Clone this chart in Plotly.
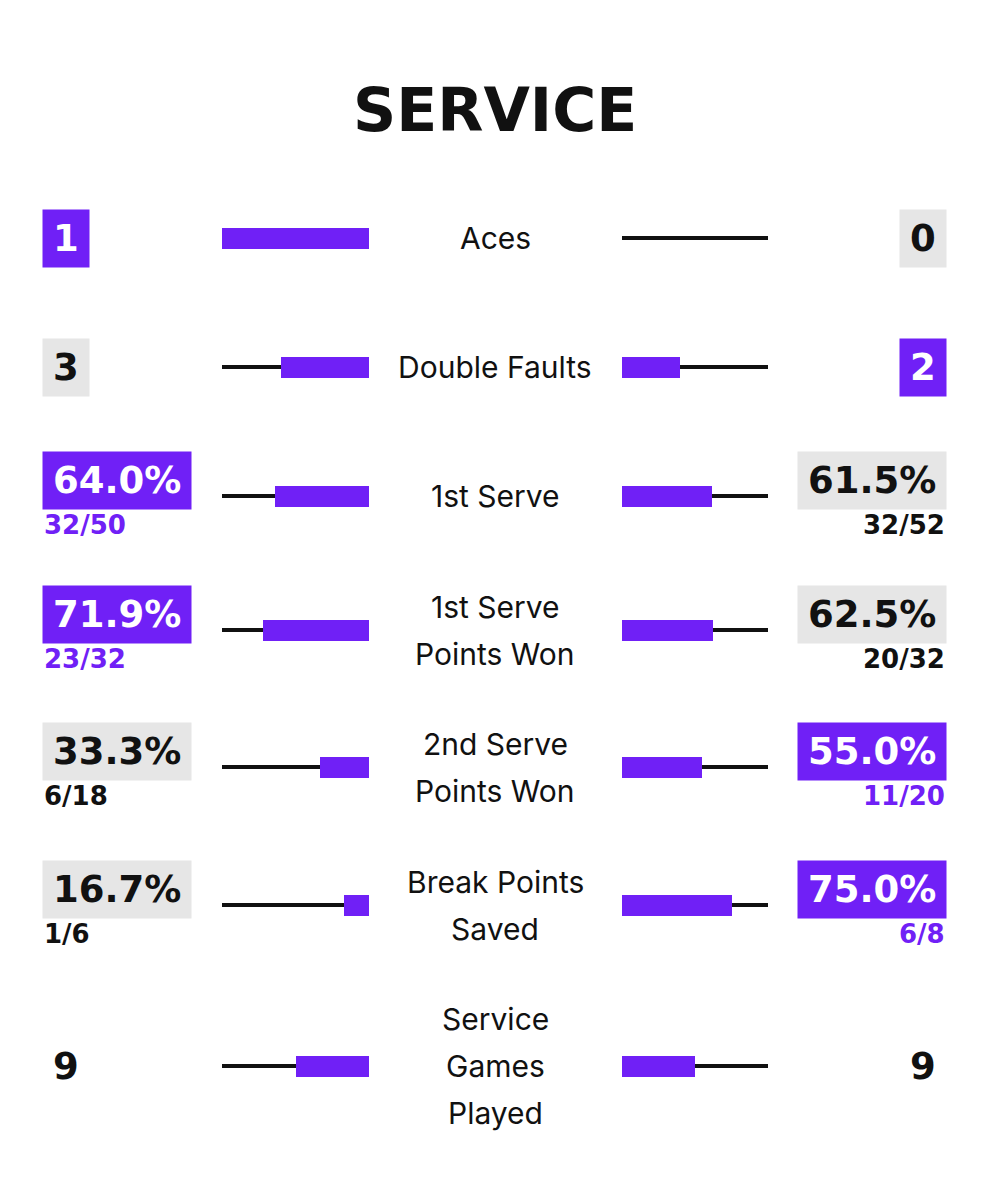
import plotly.graph_objects as go

# ---------------- data ----------------
categories = ["Aces", "Double Faults", "1st Serve", "1st Serve\nPoints Won",
              "2nd Serve\nPoints Won", "Break Points\nSaved", "Service\nGames\nPlayed"]
left_values = [1, 3, 64.0, 71.9, 33.3, 16.7, 9]
right_values = [0, 2, 61.5, 62.5, 55.0, 75.0, 9]
is_percent = [False, False, True, True, True, True, False]
lower_is_better = [False, True, False, False, False, False, False]
left_detail = ["", "", "32/50", "23/32", "6/18", "1/6", ""]
right_detail = ["", "", "32/52", "20/32", "11/20", "6/8", ""]
title_text = "SERVICE"

# ---------------- style / layout ----------------
W, H = 990, 1200
PURPLE = "#7020F6"
GREY = "#E6E6E6"
INK = "#111111"
ROW_Y = [238, 367, 496, 630, 767, 905, 1066]
LEFT_DOMAIN = [222 / W, 369 / W]
RIGHT_DOMAIN = [622 / W, 768 / W]
NUM_FONT = "DejaVu Sans"
LABEL_FONT = "Inter"


def fmt(v, pct):
    return f"{v:.1f}%" if pct else f"{int(v)}"


left_share, right_share, winner = [], [], []
for l, r, pct, low in zip(left_values, right_values, is_percent, lower_is_better):
    if pct:
        left_share.append(l / 100)
        right_share.append(r / 100)
    else:
        tot = l + r
        left_share.append(l / tot if tot else 0)
        right_share.append(r / tot if tot else 0)
    if l == r:
        winner.append(None)
    elif (l > r) != low:
        winner.append("left")
    else:
        winner.append("right")

fig = go.Figure()
# tracks
fig.add_trace(go.Bar(x=[1] * len(categories), y=ROW_Y, orientation="h", width=4,
                     marker=dict(color=INK, line_width=0), xaxis="x", yaxis="y",
                     hoverinfo="skip"))
fig.add_trace(go.Bar(x=left_share, y=ROW_Y, orientation="h", width=21,
                     marker=dict(color=PURPLE, line_width=0), xaxis="x", yaxis="y",
                     hoverinfo="skip"))
fig.add_trace(go.Bar(x=[1] * len(categories), y=ROW_Y, orientation="h", width=4,
                     marker=dict(color=INK, line_width=0), xaxis="x2", yaxis="y",
                     hoverinfo="skip"))
fig.add_trace(go.Bar(x=right_share, y=ROW_Y, orientation="h", width=21,
                     marker=dict(color=PURPLE, line_width=0), xaxis="x2", yaxis="y",
                     hoverinfo="skip"))

ann = []
# title
ann.append(dict(x=0.5, y=110, xref="paper", yref="y", text="<b>" + title_text + "</b>",
                showarrow=False, font=dict(family=NUM_FONT, size=60, color=INK),
                xanchor="center", yanchor="middle"))

for i, cat in enumerate(categories):
    y0 = ROW_Y[i]
    lines = cat.split("\n")
    n = len(lines)
    for k, line in enumerate(lines):
        ann.append(dict(x=0.5, y=y0 + (k - (n - 1) / 2) * 47, xref="paper", yref="y",
                        text=line, showarrow=False,
                        font=dict(family=LABEL_FONT, size=30, color=INK, weight=400),
                        xanchor="center", yanchor="middle"))
    has_detail = bool(left_detail[i] or right_detail[i])
    by = y0 - 16 if has_detail else y0
    for side, val, det in (("left", left_values[i], left_detail[i]),
                           ("right", right_values[i], right_detail[i])):
        w = winner[i]
        if w is None:
            bg, fc, dc = "rgba(0,0,0,0)", INK, INK
        elif w == side:
            bg, fc, dc = PURPLE, "white", PURPLE
        else:
            bg, fc, dc = GREY, INK, INK
        xpos = 42 / W if side == "left" else 947 / W
        xa = "left" if side == "left" else "right"
        ann.append(dict(x=xpos, y=by, xref="paper", yref="y",
                        text="<b>" + fmt(val, is_percent[i]) + "</b>", showarrow=False,
                        font=dict(family=NUM_FONT, size=37, color=fc),
                        bgcolor=bg, borderpad=10, height=37,
                        xanchor=xa, yanchor="middle"))
        if det:
            ann.append(dict(x=xpos, y=by + 45, xref="paper", yref="y",
                            text="<b>" + det + "</b>", showarrow=False,
                            font=dict(family=NUM_FONT, size=26, color=dc),
                            xanchor=xa, yanchor="middle"))

fig.update_layout(
    width=W, height=H, margin=dict(l=0, r=0, t=0, b=0),
    paper_bgcolor="white", plot_bgcolor="white", showlegend=False,
    barmode="overlay", bargap=0,
    xaxis=dict(domain=LEFT_DOMAIN, range=[1, 0], visible=False, fixedrange=True),
    xaxis2=dict(domain=RIGHT_DOMAIN, range=[0, 1], visible=False, fixedrange=True,
                anchor="y"),
    yaxis=dict(domain=[0, 1], range=[H, 0], visible=False, fixedrange=True),
    annotations=ann,
)

fig.write_html("out.html", config={"displayModeBar": False})
